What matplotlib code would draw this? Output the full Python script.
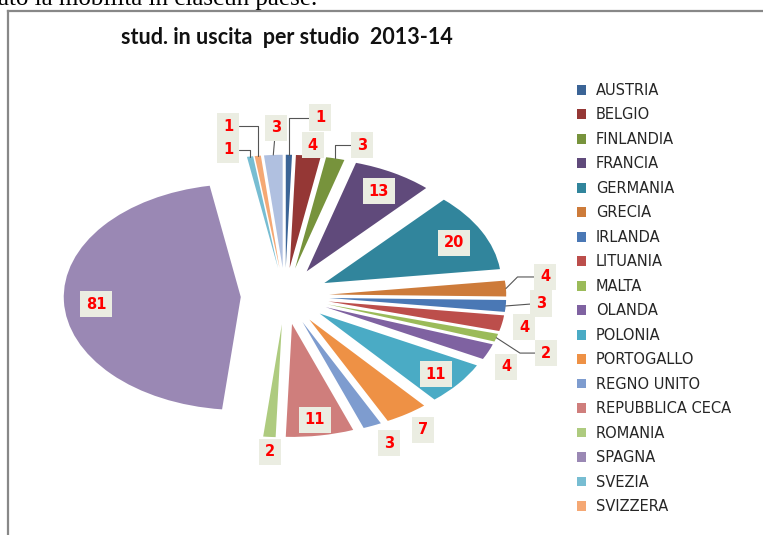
import matplotlib

matplotlib.use("Agg")
import matplotlib.pyplot as plt
import numpy as np
from matplotlib.lines import Line2D

# dati (l'ultima fetta senza voce in legenda)
paesi = [
    "AUSTRIA", "BELGIO", "FINLANDIA", "FRANCIA", "GERMANIA", "GRECIA",
    "IRLANDA", "LITUANIA", "MALTA", "OLANDA", "POLONIA", "PORTOGALLO",
    "REGNO UNITO", "REPUBBLICA CECA", "ROMANIA", "SPAGNA", "SVEZIA",
    "SVIZZERA", "",
]
studenti = [1, 4, 3, 13, 20, 4, 3, 4, 2, 4, 11, 7, 3, 11, 2, 81, 1, 1, 3]

colori = [
    "#3B6496", "#953735", "#77933C", "#604A7B", "#31859C", "#CD7B3A",
    "#4A78B5", "#BC4E4B", "#9BBB59", "#7F62A1", "#4AABC5", "#EE9145",
    "#7E9CCF", "#CF7E7C", "#AECB7F", "#9A88B4", "#77BDD2", "#F5A874",
    "#B0C0E0",
]

# posizione etichette: raggio e spostamento angolare (gradi, senso orario)
lab_r = [1.59, 1.345, 1.405, 1.07, 1.064, 1.48, 1.447, 1.378, 1.56, 1.398,
         1.097, 1.419, 1.428, 1.11, 1.383, 1.07, 1.332, 1.538, 1.488]
lab_dt = [6.2, 0.6, 4.9, 0.4, 1.1, -3.5, -1.5, 0.4, 1.7, 3.4,
          0.6, 0.0, -1.0, 0.3, -0.5, -1.8, -4.9, -5.0, 1.0]
leader = [
    "angle,angleA=0,angleB=90,rad=0", None, "angle,angleA=0,angleB=90,rad=0",
    None, None, "angle,angleA=0,angleB=45,rad=0", "arc3", None,
    "angle,angleA=0,angleB=-33,rad=0", None, None, None, None, None, None,
    None, "angle,angleA=0,angleB=90,rad=0", "angle,angleA=0,angleB=90,rad=0",
    "arc3",
]
EXPLODE = 0.25

W, H = 763, 535
fig = plt.figure(figsize=(W / 100, H / 100), dpi=100)
ax = fig.add_axes([0, 0, 1, 1])

wedges, _ = ax.pie(
    studenti, explode=[EXPLODE] * len(studenti), colors=colori,
    startangle=90, counterclock=False, wedgeprops=dict(linewidth=0),
)
ax.set_aspect("auto")
# centro torta a (285, 296) px, raggio 177 x 113 px
cx, cy, rx, ry = 285, 296, 177, 113
ax.set_xlim(-cx / rx, (W - cx) / rx)
ax.set_ylim(-(H - cy) / ry, cy / ry)
ax.axis("off")

box = dict(boxstyle="square,pad=0.4", facecolor="#EBEDE2", edgecolor="none")
for w, v, r, dt, ls in zip(wedges, studenti, lab_r, lab_dt, leader):
    mid = np.deg2rad((w.theta1 + w.theta2) / 2)
    ang = mid - np.deg2rad(dt)
    xt = (r * np.cos(ang), r * np.sin(ang))
    edge = ((1 + EXPLODE) * np.cos(mid), (1 + EXPLODE) * np.sin(mid))
    arrow = None
    if ls:
        arrow = dict(arrowstyle="-", color="#555555", lw=0.8,
                     connectionstyle=ls, shrinkA=0, shrinkB=0)
    ax.annotate(str(v), xy=edge, xytext=xt, ha="center", va="center",
                fontsize=10.5, fontweight="bold", color="#FF0000",
                bbox=box, arrowprops=arrow)

fig.legend(
    wedges[:18], paesi[:18], loc="upper left",
    bbox_to_anchor=(577 / W, 1 - 83 / H), frameon=False,
    fontsize=10.5, handlelength=0.65, handleheight=0.65,
    handletextpad=0.65, labelspacing=0.65, borderpad=0, borderaxespad=0,
    labelcolor="#262626",
)

fig.text(287 / W, 1 - 38 / H, "stud. in uscita  per studio  2013-14",
         ha="center", va="center", fontsize=15.5, fontweight="bold",
         family="Lato", color="#111111")

# testo del documento tagliato in alto e cornice del grafico
fig.text(-2 / W, 1 - 5 / H, "ato la mobilità in ciascun paese.",
         ha="left", va="baseline", fontsize=18, family="Liberation Serif")
fig.add_artist(Line2D([7.5 / W, 7.5 / W], [0, 1 - 10.5 / H],
                      color="#888888", lw=1.6))
fig.add_artist(Line2D([7.5 / W, 1], [1 - 10.5 / H, 1 - 10.5 / H],
                      color="#888888", lw=1.6))

fig.savefig("out.png", dpi=100)
